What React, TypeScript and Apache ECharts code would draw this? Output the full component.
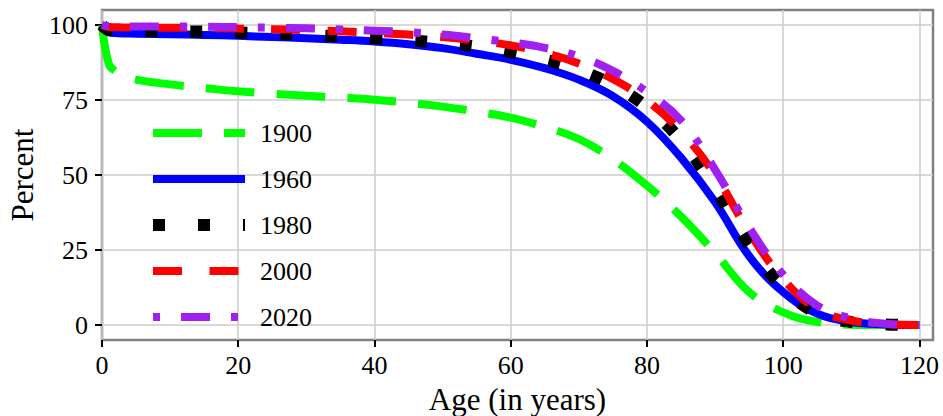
import React, { useEffect, useRef } from "react";
import * as echarts from "echarts";

const ages = [0, 1, 2, 3, 5, 10, 15, 20, 25, 30, 35, 40, 45, 50, 55, 60, 65, 70, 75, 80, 85, 90, 95, 100, 105, 110, 115, 120];
const yearLabels = ["1900", "1960", "1980", "2000", "2020"];
const pct1900 = [100, 87, 84.6, 83.3, 81.8, 80.2, 79.0, 77.9, 77.1, 76.4, 75.8, 75.1, 74.1, 72.8, 71.1, 69.1, 66.0, 62.0, 55.3, 46.5, 36.2, 24.0, 11.0, 4.2, 1.0, 0.1, 0, 0];
const pct1960 = [100, 97.5, 97.3, 97.2, 97.1, 96.9, 96.7, 96.4, 96.0, 95.6, 95.1, 94.5, 93.6, 92.3, 90.4, 88.4, 85.6, 81.8, 76.3, 67.8, 55.8, 41.0, 23.0, 11.0, 3.8, 1.0, 0.2, 0];
const pct1980 = [100, 98.4, 98.3, 98.2, 98.1, 97.9, 97.8, 97.5, 97.1, 96.7, 96.2, 95.6, 94.9, 94.0, 92.8, 91.0, 88.5, 85.0, 80.0, 72.6, 61.5, 45.5, 26.8, 12.5, 3.8, 1.0, 0.2, 0];
const pct2000 = [100, 99.3, 99.25, 99.2, 99.15, 99.1, 99.0, 98.8, 98.6, 98.3, 97.9, 97.4, 96.8, 96.0, 94.8, 93.2, 90.7, 87.2, 82.0, 74.8, 64.5, 50.0, 31.0, 15.3, 5.2, 1.5, 0.3, 0];
const pct2020 = [100, 99.6, 99.55, 99.5, 99.5, 99.5, 99.4, 99.3, 99.1, 98.9, 98.5, 98.1, 97.6, 96.8, 95.6, 94.2, 92.4, 89.5, 84.7, 77.7, 68.2, 51.8, 32.5, 16.8, 6.5, 2.2, 0.4, 0];
const xTicks = [0, 20, 40, 60, 80, 100, 120];
const yTicks = [0, 25, 50, 75, 100];

const allSeries = [pct1900, pct1960, pct1980, pct2000, pct2020];
const colors = ["#00ff00", "#0000ff", "#000000", "#ff0000", "#a020f0"];
const widths = [8, 8, 12, 8, 8];
const dashes: any[] = [[49, 22], "solid", [12, 33], [29, 27.5], [7, 21, 29, 21]];

const FONT = "Liberation Serif";

export default function App() {
  const ref = useRef<HTMLDivElement>(null);
  useEffect(() => {
    if (!ref.current) return;
    const chart = echarts.init(ref.current, null, { renderer: "svg" });
    const option: any = {
      animation: false,
      backgroundColor: "#ffffff",
      grid: {
        left: 102,
        right: 10,
        top: 10,
        bottom: 76,
        show: true,
        borderColor: "#808080",
        borderWidth: 2.5,
        backgroundColor: "transparent",
        containLabel: false,
        outerBoundsMode: "none",
      },
      legend: {
        orient: "vertical",
        left: 147,
        top: 120,
        padding: 0,
        itemWidth: 92,
        itemHeight: 20,
        itemGap: 20,
        selectedMode: false,
        itemStyle: { opacity: 0, borderWidth: 0 },
        textStyle: { fontFamily: FONT, fontSize: 26, lineHeight: 26, color: "#000", padding: [0, 0, 0, 10] },
        data: yearLabels.map((n, i) => ({
          name: n,
          lineStyle: { width: widths[i], type: dashes[i], cap: "butt" },
        })),
      },
      xAxis: {
        type: "value",
        min: 0,
        max: 122,
        name: "Age (in years)",
        nameLocation: "middle",
        nameGap: 44,
        nameTextStyle: { fontFamily: FONT, fontSize: 31, color: "#000" },
        axisLine: { show: false, onZero: false },
        axisTick: { show: true, length: 7, lineStyle: { color: "#000", width: 2 }, customValues: xTicks },
        axisLabel: { fontFamily: FONT, fontSize: 26, color: "#000", margin: 12, customValues: xTicks },
        splitLine: { show: true, lineStyle: { color: "#cccccc", width: 1.5 } },
      },
      yAxis: {
        type: "value",
        min: -5,
        max: 105,
        name: "Percent",
        nameLocation: "middle",
        nameGap: 63,
        nameTextStyle: { fontFamily: FONT, fontSize: 31, color: "#000" },
        axisLine: { show: false, onZero: false },
        axisTick: { show: true, length: 7, lineStyle: { color: "#000", width: 2 }, customValues: yTicks },
        axisLabel: { fontFamily: FONT, fontSize: 26, color: "#000", margin: 14, customValues: yTicks },
        splitLine: { show: true, lineStyle: { color: "#cccccc", width: 1.5 } },
      },
      series: allSeries.map((vals, i) => ({
        name: yearLabels[i],
        type: "line",
        data: ages.map((a, j) => [a, vals[j]]),
        symbol: "none",
        showSymbol: false,
        smooth: 0.4,
        color: colors[i],
        lineStyle: { color: colors[i], width: widths[i], type: dashes[i], cap: "butt" },
        z: 2 + i,
      })),
    };
    chart.setOption(option);
    return () => chart.dispose();
  }, []);
  return <div ref={ref} style={{ position: "fixed", left: 0, top: 0, width: 943, height: 416 }} />;
}
